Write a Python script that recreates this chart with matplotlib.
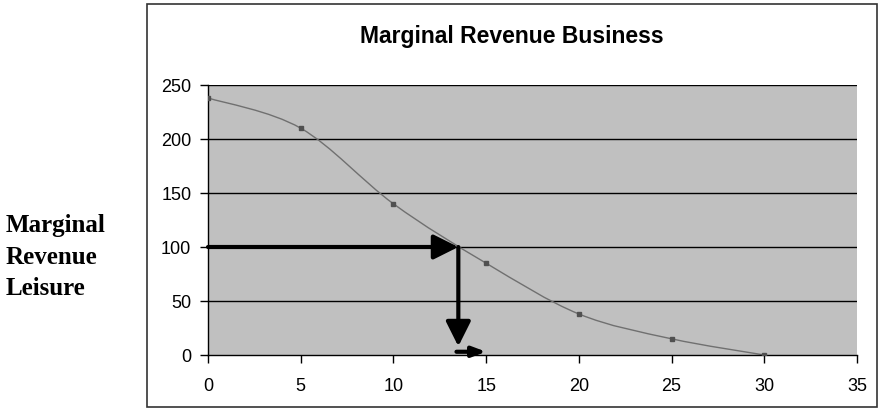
import numpy as np
import matplotlib.pyplot as plt
from matplotlib.path import Path
from matplotlib.patches import PathPatch, Rectangle

# data
quantity = [0, 5, 10, 15, 20, 25, 30]
revenue = [238, 210, 140, 85, 38, 15, 0]
x_ticks = [0, 5, 10, 15, 20, 25, 30, 35]
y_ticks = [0, 50, 100, 150, 200, 250]

# the equilibrium the arrows point at
eq_x = 13.5
eq_y = 100
arrow_end_x = 15.0


def smooth_path(xs, ys, k=1/6):
    # excel style smoothed line: bezier segments through the points
    verts = [(xs[0], ys[0])]
    codes = [Path.MOVETO]
    n = len(xs)
    for i in range(n - 1):
        x0, y0 = xs[max(i - 1, 0)], ys[max(i - 1, 0)]
        x1, y1 = xs[i], ys[i]
        x2, y2 = xs[i + 1], ys[i + 1]
        x3, y3 = xs[min(i + 2, n - 1)], ys[min(i + 2, n - 1)]
        c1 = (x1 + (x2 - x0) * k, y1 + (y2 - y0) * k)
        c2 = (x2 - (x3 - x1) * k, y2 - (y3 - y1) * k)
        verts += [c1, c2, (x2, y2)]
        codes += [Path.CURVE4] * 3
    return Path(verts, codes)


plt.rcParams['font.family'] = ['Liberation Sans', 'DejaVu Sans']

fig = plt.figure(figsize=(8.8, 4.1), dpi=100)
fig.patch.set_facecolor('white')

# outer chart frame
fig.patches.append(Rectangle((147/880, 2/410), 730/880, 403/410, transform=fig.transFigure,
                             fill=False, edgecolor='#333333', linewidth=1.2))

ax = fig.add_axes([208/880, 1 - 356/410, 649/880, 270/410])
ax.set_facecolor('#c0c0c0')
ax.set_xlim(0, 35)
ax.set_ylim(0, 250)

for y in y_ticks[1:]:
    ax.axhline(y, color='black', linewidth=1.0, zorder=1)

ax.add_patch(PathPatch(smooth_path(quantity, revenue), fill=False,
                       edgecolor='#707070', linewidth=1.0, zorder=2))
ax.plot(quantity, revenue, linestyle='none', marker='s', markersize=2.5,
        color='#505050', zorder=3)

arrow_kw = dict(arrowstyle='-|>,head_length=1.5,head_width=0.75', color='black',
                linewidth=3, shrinkA=0, shrinkB=0)
ax.annotate('', xy=(eq_x, eq_y), xytext=(0, eq_y), arrowprops=arrow_kw, zorder=4)
ax.annotate('', xy=(eq_x, 8), xytext=(eq_x, eq_y), arrowprops=arrow_kw, zorder=4)
ax.annotate('', xy=(arrow_end_x, 3), xytext=(eq_x - 0.1, 3),
            arrowprops=dict(arrowstyle='-|>,head_length=0.8,head_width=0.3', color='black',
                            linewidth=3, shrinkA=0, shrinkB=0), zorder=4)

ax.set_xticks(x_ticks)
ax.set_yticks(y_ticks)
ax.tick_params(direction='out', length=6, width=1, labelsize=13, colors='black')
ax.tick_params(axis='x', pad=10)
ax.tick_params(axis='y', pad=6)
for s in ['top', 'right']:
    ax.spines[s].set_visible(False)
ax.spines['left'].set_linewidth(1)
ax.spines['bottom'].set_linewidth(1)

fig.text(512/880, 1 - 37/410, 'Marginal Revenue Business', ha='center', va='center',
         fontsize=16.5, fontweight='bold')
fig.text(6/880, 1 - 257/410, 'Marginal\nRevenue\nLeisure', ha='left', va='center',
         fontsize=18, fontweight='bold', family=['Liberation Serif', 'DejaVu Serif'],
         linespacing=1.45)

fig.savefig('out.png', dpi=100)
